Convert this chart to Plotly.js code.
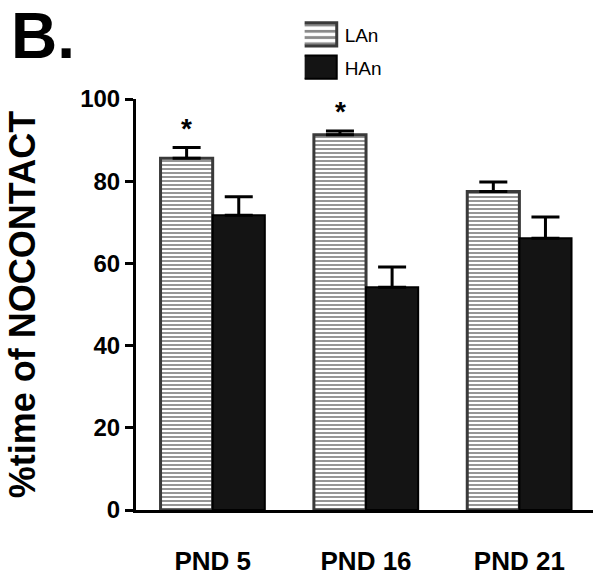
<!DOCTYPE html>
<html>
<head>
<meta charset="utf-8">
<script src="https://cdn.plot.ly/plotly-3.0.1.min.js"></script>
<style>
html,body{margin:0;padding:0;background:#fff;}
#chart{width:604px;height:581px;}
</style>
</head>
<body>
<div id="chart"></div>
<script>
var categories = ['PND 5', 'PND 16', 'PND 21'];
var lanMean = [85.6, 91.3, 77.5];
var lanSem = [2.6, 0.9, 2.3];
var hanMean = [71.7, 54.2, 66.1];
var hanSem = [4.5, 4.9, 5.2];
var significance = ['*', '*', ''];
var yTicks = [0, 20, 40, 60, 80, 100];

var FONT = 'Liberation Sans, Arial, Helvetica, sans-serif';

var zeros = categories.map(function () { return 0; });

var lan = {
  type: 'bar', name: 'LAn', x: categories, y: lanMean,
  legendgroup: 'lan',
  marker: {
    color: '#ffffff',
    line: { color: '#3a3a3a', width: 3 },
    pattern: { shape: '-', size: 4, solidity: 0.45, fgcolor: '#8a8a8a', bgcolor: '#ffffff', fillmode: 'replace' }
  },
  error_y: { type: 'data', symmetric: false, array: lanSem, arrayminus: zeros, color: '#000', thickness: 3, width: 14 },
  cliponaxis: false
};
var han = {
  type: 'bar', name: 'HAn', x: categories, y: hanMean,
  legendgroup: 'han',
  marker: { color: '#141414', line: { color: '#000000', width: 2 } },
  error_y: { type: 'data', symmetric: false, array: hanSem, arrayminus: zeros, color: '#000', thickness: 3, width: 14 },
  cliponaxis: false
};

var annotations = [];
categories.forEach(function (c, i) {
  if (significance[i]) {
    annotations.push({
      x: c, y: lanMean[i] + lanSem[i], xref: 'x', yref: 'y',
      xshift: -26, yshift: 2, yanchor: 'bottom', showarrow: false,
      text: significance[i], font: { family: FONT, size: 28, color: '#000', weight: 'bold' }
    });
  }
});
annotations.push({
  xref: 'paper', yref: 'paper', x: -0.278, y: 1.245, xanchor: 'left', yanchor: 'top',
  showarrow: false, text: 'B.', font: { family: FONT, size: 64, color: '#000', weight: 'bold' }
});

var layout = {
  width: 604, height: 581,
  margin: { l: 136, r: 11, t: 99, b: 71 },
  paper_bgcolor: '#fff', plot_bgcolor: '#fff',
  barmode: 'group', bargap: 0.32, bargroupgap: 0,
  showlegend: true,
  legend: {
    x: 0.369, y: 1.203, xanchor: 'left', yanchor: 'top',
    font: { family: FONT, size: 19, color: '#000' },
    tracegroupgap: 5, bgcolor: 'rgba(0,0,0,0)'
  },
  xaxis: {
    range: [-0.5, 2.48],
    showline: true, linecolor: '#000', linewidth: 3,
    ticks: 'outside', ticklen: 26, tickcolor: 'rgba(0,0,0,0)',
    tickfont: { family: FONT, size: 26, color: '#000', weight: 'bold' },
    showgrid: false, zeroline: false, fixedrange: true
  },
  yaxis: {
    range: [0, 100],
    tickvals: yTicks, ticktext: yTicks.map(String),
    showline: true, linecolor: '#000', linewidth: 3,
    ticks: 'outside', ticklen: 8, tickwidth: 3, tickcolor: '#000',
    tickfont: { family: FONT, size: 24, color: '#000', weight: 'bold' },
    showgrid: false, zeroline: false, fixedrange: true,
    title: { text: '%time of NOCONTACT', standoff: 34, font: { family: FONT, size: 36, color: '#000', weight: 'bold' } }
  },
  annotations: annotations
};

Plotly.newPlot('chart', [lan, han], layout, { staticPlot: true, displayModeBar: false }).then(function (gd) {
  var paths = gd.querySelectorAll('.legend .legendpoints path');
  paths.forEach(function (p) {
    var t = p.getAttribute('transform') || '';
    p.setAttribute('transform', t + ' translate(-6.5,0) scale(3.1,1.95)');
    p.style.vectorEffect = 'non-scaling-stroke';
  });
});
</script>
</body>
</html>
